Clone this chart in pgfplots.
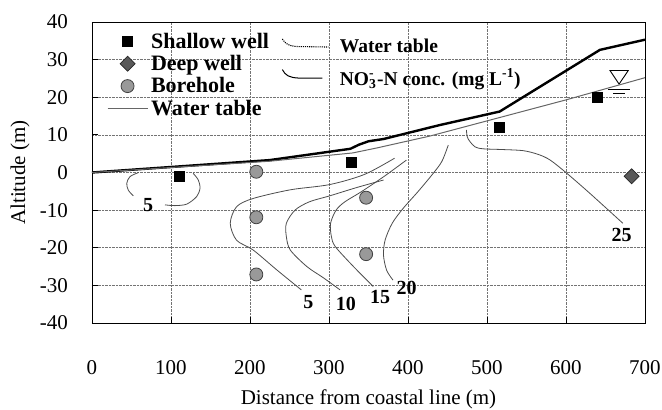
\documentclass[border=0pt]{standalone}
\usepackage{fontspec}
\setmainfont{Liberation Serif}
\usepackage{pgfplots}
\pgfplotsset{compat=1.18}
\begin{document}
\begin{tikzpicture}
\path[use as bounding box] (0,0) rectangle (662pt,410pt);
\begin{axis}[
  at={(92pt,87pt)}, anchor=south west,
  scale only axis, width=553pt, height=301pt,
  xmin=0, xmax=700, ymin=-40, ymax=40,
  xtick={0,100,...,700}, ytick={-40,-30,...,40},
  grid=major,
  major grid style={densely dotted, black!55, line width=0.6pt},
  axis line style={line width=0.9pt},
  tick align=inside, xtick pos=left, ytick pos=left,
  major tick length=6pt,
  tick style={black, line width=0.8pt},
  /pgf/number format/assume math mode=true,
  ticklabel style={font=\fontsize{21}{25}\selectfont},
  yticklabel style={inner sep=0pt, xshift=-24pt},
  xticklabel style={inner sep=0pt, yshift=-37pt},
  label style={font=\fontsize{21}{25}\selectfont},
  xlabel={Distance from coastal line (m)},
  ylabel={Altitude (m)},
  xlabel style={at={(axis description cs:0.5,0)}, anchor=base, yshift=-81pt},
  ylabel style={at={(axis description cs:-0.13,0.5)}, anchor=center},
  legend columns=1,
  legend image code/.code={\draw[mark repeat=2,mark phase=2,#1] plot coordinates {(0pt,0pt) (20pt,0pt) (40pt,0pt)};},
  legend style={draw=none, fill=none, at={(axis cs:18.8,37.4)}, anchor=north west,
    font=\bfseries\fontsize{22}{24}\selectfont, row sep=3.6pt, column sep=2pt,
    inner sep=0pt, nodes={inner sep=1pt}},
  legend cell align=left,
]
% ground surface
\addplot[black, line width=2.4pt, forget plot] coordinates {
(0,0) (225,3.3) (327,6.3) (338,7.4) (350,8.3) (369,8.9) (440,12.6) (516,16.2) (643,32.6) (700,35.3)};
% contours
\addplot[black!70, line width=0.8pt, smooth, forget plot] coordinates {
(59,0) (48,-1.1) (44,-2.9) (46,-4.7) (52.3,-6.2)};
\addplot[black!70, line width=0.8pt, smooth, forget plot] coordinates {
(128,-0.2) (134.6,-2) (136.7,-4.2) (132.5,-6.4) (120,-8.4) (105,-8.8) (92.4,-8.6)};
\addplot[black!70, line width=0.8pt, smooth, forget plot] coordinates {
(383,3.8) (345,-0.5) (301,-3.2) (251,-4.6) (204,-6.9) (183,-9.1) (175,-13.5) (183,-18) (204,-20.6) (234,-25.9) (265,-31.2)};
\addplot[black!70, line width=0.8pt, smooth, forget plot] coordinates {
(369,-2) (335,-4) (301,-6.2) (275,-7.8) (257,-10) (246,-13.5) (246,-17) (251,-20.6) (272,-25) (293,-28) (314,-31.2)};
\addplot[black!70, line width=0.8pt, smooth, forget plot] coordinates {
(398,3.3) (370,-1) (341,-5.1) (320,-7.8) (309,-10) (302,-13.5) (303,-17) (308,-19.7) (331,-25) (356,-30.3)};
\addplot[black!70, line width=0.8pt, smooth, forget plot] coordinates {
(451,7.3) (443,3) (432,-0.2) (413,-5) (394,-9.5) (380,-13.5) (371,-18) (369,-22) (373,-26) (381,-28.6)};
\addplot[black!70, line width=0.8pt, smooth, forget plot] coordinates {
(474,11.3) (475,9.5) (478.5,8.2) (485,6.8) (495,6.3) (520,6.1) (546,5.8) (565,4.8) (580,3.3) (601,-0.2) (630,-5.5) (672,-13.5)};
% water table symbol
\addplot[black, fill=white, line width=0.9pt, forget plot] coordinates {(655.7,27.1) (678.8,27.1) (667.2,23.5)} -- cycle;
\addplot[black, line width=1.4pt, forget plot] coordinates {(653,22.1) (681,22.1)};
\addplot[black, line width=1.4pt, forget plot] coordinates {(660,21) (675,21)};
% points
\addplot[only marks, mark=square*, mark size=5pt, mark options={fill=black, draw=black}] coordinates {(110,-1) (328,2.7) (516,12.1) (640,20)};
\addlegendentry{Shallow well}
\addplot[only marks, mark=square*, mark size=5.3pt, mark options={rotate=45, fill=black!65, draw=black!85, line width=0.7pt}] coordinates {(683,-1)};
\addlegendentry{Deep well}
\addplot[only marks, mark=*, mark size=6.5pt, mark options={fill=black!40, draw=black!75, line width=0.8pt}] coordinates {(208,0.2) (208,-11.9) (208,-27.1) (347,-6.7) (347,-21.7)};
\addlegendentry{Borehole}
\addplot[black!60, line width=1pt] coordinates {
(0,0) (225,3) (263,3.8) (330,5.2) (360,6.5) (428,9.7) (600,19.3) (700,25.2)};
\addlegendentry{Water table}
% contour labels
\node[font=\bfseries\fontsize{20}{22}\selectfont] at (axis cs:71,-8.6) {5};
\node[font=\bfseries\fontsize{20}{22}\selectfont] at (axis cs:274,-34.5) {5};
\node[font=\bfseries\fontsize{20}{22}\selectfont] at (axis cs:321.5,-35) {10};
\node[font=\bfseries\fontsize{20}{22}\selectfont] at (axis cs:364.6,-33) {15};
\node[font=\bfseries\fontsize{20}{22}\selectfont] at (axis cs:398.4,-30.8) {20};
\node[font=\bfseries\fontsize{20}{22}\selectfont] at (axis cs:670.5,-16.6) {25};
\end{axis}
\begin{axis}[
  at={(92pt,87pt)}, anchor=south west,
  scale only axis, width=553pt, height=301pt,
  xmin=0, xmax=700, ymin=-40, ymax=40, hide axis,
  legend style={draw=none, fill=none, at={(axis cs:240,36.2)}, anchor=north west,
    font=\bfseries\fontsize{19.5}{22}\selectfont, row sep=11pt, column sep=9pt,
    inner sep=0pt, nodes={inner sep=2pt}},
  legend cell align=left,
]
\addlegendimage{legend image code/.code={\draw[black, densely dotted, line width=1.1pt] (0pt,7pt) .. controls (3pt,2pt) and (7pt,0pt) .. (14pt,-0.5pt) -- (46pt,-1pt);}}
\addlegendentry{Water table}
\addlegendimage{legend image code/.code={\draw[black, line width=1pt] (0pt,8pt) .. controls (3pt,2pt) and (7pt,0pt) .. (16pt,-0.5pt) -- (40pt,-0.5pt);}}
\addlegendentry{NO\rlap{\textsubscript{3}}\textsuperscript{-}\hspace{0.15em}-N conc. (mg L\textsuperscript{-1})}
\end{axis}
\end{tikzpicture}
\end{document}
